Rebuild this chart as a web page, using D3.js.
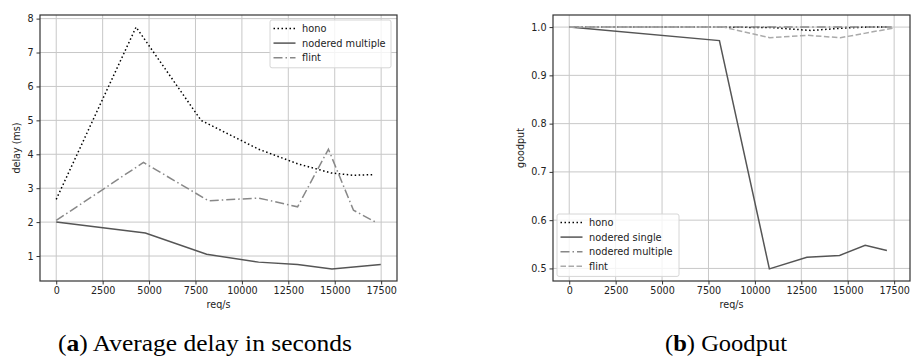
<!DOCTYPE html>
<html>
<head>
<meta charset="utf-8">
<script src="https://cdn.jsdelivr.net/npm/d3@7"></script>
<style>
  body { margin: 0; background: #fff; }
  svg { display: block; }
  .tick text { font-family: 'DejaVu Sans', sans-serif; }
</style>
</head>
<body>
<svg id="chart" width="913" height="358"></svg>
<script>
// ---- data: (a) average delay ----
const delayHonoX = [0, 4300, 7800, 10900, 13000, 14800, 16000, 17100]
const delayHonoY = [2.67, 7.75, 5.0, 4.15, 3.72, 3.45, 3.38, 3.4]
const delayMultiX = [0, 4800, 8100, 10900, 13000, 14850, 17480]
const delayMultiY = [2.0, 1.68, 1.05, 0.82, 0.75, 0.62, 0.75]
const delayFlintX = [0, 4700, 8200, 10900, 13000, 14660, 16010, 17270]
const delayFlintY = [2.05, 3.76, 2.63, 2.71, 2.45, 4.15, 2.35, 1.98]

// ---- data: (b) goodput ----
const goodHonoX = [0, 4300, 7800, 10900, 13000, 14800, 16000, 17100]
const goodHonoY = [1.0, 1.0, 1.0, 0.999, 0.993, 0.998, 1.0, 1.0]
const goodSingleX = [0, 8090, 10780, 12800, 14560, 15940, 17110]
const goodSingleY = [1.0, 0.972, 0.499, 0.523, 0.527, 0.548, 0.537]
const goodMultiX = [0, 4800, 8100, 10900, 13000, 14850, 17480]
const goodMultiY = [1.0, 1.0, 1.0, 1.0, 1.0, 1.0, 1.0]
const goodFlintX = [0, 8300, 10800, 12800, 14600, 15900, 17465]
const goodFlintY = [1.0, 1.0, 0.978, 0.983, 0.978, 0.987, 0.998]

const xTicks = [0, 2500, 5000, 7500, 10000, 12500, 15000, 17500]
const delayTicks = [1, 2, 3, 4, 5, 6, 7, 8]
const goodTicks = [0.5, 0.6, 0.7, 0.8, 0.9, 1.0]

// matplotlib-like style cycle (greyscale)
const styles = [
  { color: '#000', dash: '1.5,2.5' },
  { color: '#555', dash: null },
  { color: '#888', dash: '9,3,1.5,3' },
  { color: '#aaa', dash: '5.5,2.5' },
]

const svg = d3.select('#chart')
svg.append('rect').attr('width', 913).attr('height', 358).attr('fill', '#fff')

const zip = (xs, ys) => xs.map((x, i) => ({ x, y: ys[i] }))

const padded = (vals) => {
  const [lo, hi] = d3.extent(vals)
  const p = (hi - lo) * 0.05
  return [lo - p, hi + p]
}

const drawPanel = (opts) => {
  const { left, right, top, bottom, series, yTicks, yFormat, yLabel, yLabelX, legend, caption } = opts

  const xScale = d3.scaleLinear()
    .domain(padded(series.flatMap((s) => s.xs)))
    .range([left, right])
  const yScale = d3.scaleLinear()
    .domain(padded(series.flatMap((s) => s.ys)))
    .range([bottom, top])

  const g = svg.append('g')
  const clipId = 'clip-' + Math.round(left)
  g.append('clipPath').attr('id', clipId)
    .append('rect').attr('x', left).attr('y', top).attr('width', right - left).attr('height', bottom - top)

  // grid
  const grid = g.append('g')
  grid.selectAll('.gx').data(xTicks).join('line')
    .attr('x1', (d) => xScale(d)).attr('x2', (d) => xScale(d))
    .attr('y1', top).attr('y2', bottom)
    .attr('stroke', '#c8c8c8').attr('stroke-width', 1)
  grid.selectAll('.gy').data(yTicks).join('line')
    .attr('y1', (d) => yScale(d)).attr('y2', (d) => yScale(d))
    .attr('x1', left).attr('x2', right)
    .attr('stroke', '#c8c8c8').attr('stroke-width', 1)

  // lines
  const line = d3.line().x((d) => xScale(d.x)).y((d) => yScale(d.y))
  g.append('g').attr('clip-path', `url(#${clipId})`)
    .selectAll('path').data(series).join('path')
    .attr('d', (s) => line(zip(s.xs, s.ys)))
    .attr('fill', 'none')
    .attr('stroke', (s) => styles[s.style].color)
    .attr('stroke-width', 1.5)
    .attr('stroke-dasharray', (s) => styles[s.style].dash)

  // axes
  const xAxis = g.append('g')
    .attr('transform', `translate(0,${bottom})`)
    .call(d3.axisBottom(xScale).tickValues(xTicks).tickSize(3.5).tickPadding(3).tickFormat(d3.format('d')))
  const yAxis = g.append('g')
    .attr('transform', `translate(${left},0)`)
    .call(d3.axisLeft(yScale).tickValues(yTicks).tickSize(3.5).tickPadding(3).tickFormat(yFormat))
  for (const ax of [xAxis, yAxis]) {
    ax.select('.domain').remove()
    ax.selectAll('.tick line').attr('stroke', '#333')
    ax.selectAll('.tick text').attr('fill', '#222').style('font-size', '9.6px')
  }

  // spines
  g.append('rect')
    .attr('x', left).attr('y', top).attr('width', right - left).attr('height', bottom - top)
    .attr('fill', 'none').attr('stroke', '#333').attr('stroke-width', 1.2)

  // axis labels
  g.append('text')
    .attr('x', (left + right) / 2).attr('y', 308)
    .attr('text-anchor', 'middle')
    .style('font-family', 'DejaVu Sans, sans-serif').style('font-size', '9.6px').attr('fill', '#222')
    .text('req/s')
  g.append('text')
    .attr('transform', `translate(${yLabelX},${(top + bottom) / 2}) rotate(-90)`)
    .attr('text-anchor', 'middle')
    .style('font-family', 'DejaVu Sans, sans-serif').style('font-size', '9.6px').attr('fill', '#222')
    .text(yLabel)

  // legend
  const lg = g.append('g').attr('transform', `translate(${legend.x},${legend.y})`)
  lg.append('rect')
    .attr('width', legend.w).attr('height', series.length * 14.6 + 4)
    .attr('rx', 2).attr('fill', '#fff').attr('fill-opacity', 0.8)
    .attr('stroke', '#d6d6d6').attr('stroke-width', 1)
  const items = lg.selectAll('.item').data(series).join('g')
    .attr('transform', (s, i) => `translate(0,${8.5 + i * 14.6})`)
  items.append('line')
    .attr('x1', 3.5).attr('x2', 25.5)
    .attr('stroke', (s) => styles[s.style].color)
    .attr('stroke-width', 1.5)
    .attr('stroke-dasharray', (s) => styles[s.style].dash)
  items.append('text')
    .attr('x', 32).attr('y', 3.5)
    .style('font-family', 'DejaVu Sans, sans-serif').style('font-size', '9.8px').attr('fill', '#222')
    .text((s) => s.name)

  // caption
  const cap = svg.append('text')
    .attr('x', caption.x).attr('y', 351)
    .attr('text-anchor', 'middle')
    .attr('textLength', caption.width).attr('lengthAdjust', 'spacingAndGlyphs')
    .style('font-family', 'Liberation Serif, serif').style('font-size', '23px').attr('fill', '#000')
  cap.append('tspan').text('(')
  cap.append('tspan').attr('font-weight', 'bold').text(caption.tag)
  cap.append('tspan').text(') ' + caption.text)
}

drawPanel({
  left: 40, right: 397, top: 15, bottom: 281,
  series: [
    { name: 'hono', xs: delayHonoX, ys: delayHonoY, style: 0 },
    { name: 'nodered multiple', xs: delayMultiX, ys: delayMultiY, style: 1 },
    { name: 'flint', xs: delayFlintX, ys: delayFlintY, style: 2 },
  ],
  yTicks: delayTicks,
  yFormat: d3.format('d'),
  yLabel: 'delay (ms)',
  yLabelX: 20,
  legend: { x: 270, y: 20, w: 121 },
  caption: { x: 205, width: 294, tag: 'a', text: 'Average delay in seconds' },
})

drawPanel({
  left: 553, right: 910, top: 15, bottom: 281,
  series: [
    { name: 'hono', xs: goodHonoX, ys: goodHonoY, style: 0 },
    { name: 'nodered single', xs: goodSingleX, ys: goodSingleY, style: 1 },
    { name: 'nodered multiple', xs: goodMultiX, ys: goodMultiY, style: 2 },
    { name: 'flint', xs: goodFlintX, ys: goodFlintY, style: 3 },
  ],
  yTicks: goodTicks,
  yFormat: d3.format('.1f'),
  yLabel: 'goodput',
  yLabelX: 524,
  legend: { x: 557, y: 214, w: 122 },
  caption: { x: 726, width: 122, tag: 'b', text: 'Goodput' },
})
</script>
</body>
</html>
